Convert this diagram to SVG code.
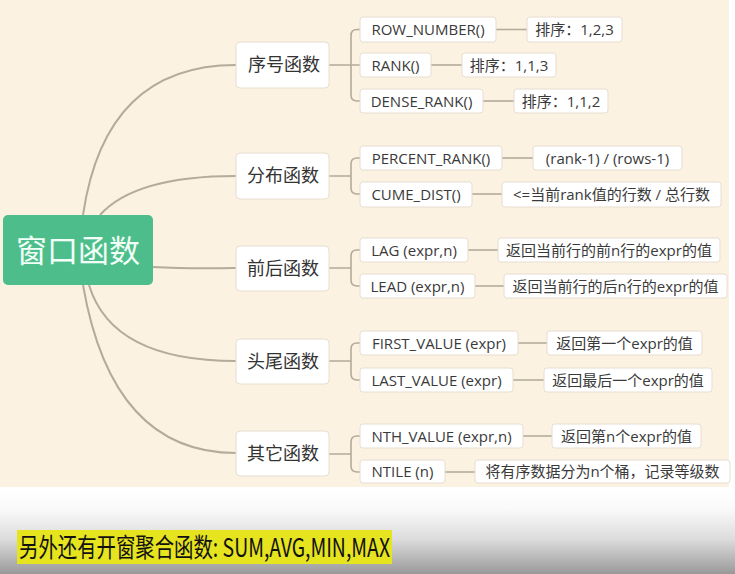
<svg xmlns="http://www.w3.org/2000/svg" width="735" height="574" viewBox="0 0 735 574">
<defs>
<linearGradient id="bottomGrad" x1="0" y1="0" x2="0" y2="1">
<stop offset="0" stop-color="#FFFFFF"/>
<stop offset="0.25" stop-color="#FAFAFA"/>
<stop offset="0.6" stop-color="#DCDCDC"/>
<stop offset="1" stop-color="#999999"/>
</linearGradient>
<style>
.n1 rect{fill:#FFFFFF;stroke:#E6DED0;stroke-width:1}
.n1 text{font-family:"Noto Sans CJK SC","Noto Sans",sans-serif;font-size:18px;fill:#333333;text-anchor:middle}
.n2 rect{fill:#FFFFFF;stroke:#E6DED0;stroke-width:1}
.n2 text{font-family:"Open Sans","Noto Sans CJK SC",sans-serif;font-size:15px;fill:#3a3a3a;text-anchor:middle}
.conn path{fill:none;stroke:#B3AB9C;stroke-width:2}
.conn line{stroke:#B3AB9C;stroke-width:1.6}
</style>
</defs>
<rect x="0" y="0" width="735" height="574" fill="#FFFFFF"/>
<rect x="0" y="0" width="729" height="487" fill="#FCF2E2"/>
<rect x="0" y="487" width="735" height="87" fill="url(#bottomGrad)"/>

<g id="connectors" class="conn">
<path d="M83,215 Q105,65 236,65"/>
<path d="M100,215 Q135,176 236,176"/>
<path d="M152,267 Q190,269 236,268"/>
<path d="M89,285 Q112,361 236,361"/>
<path d="M83,285 Q112,453 236,453"/>
<path d="M329,65 H360 M360,29.5 H357 Q351,29.5 351,35.5 V95 Q351,101 357,101 H360" style="stroke-width:1.6"/>
<path d="M329,176 H351 M360,158 H357 Q351,158 351,164 V188 Q351,194 357,194 H360" style="stroke-width:1.6"/>
<path d="M329,268 H351 M360,250 H357 Q351,250 351,256 V280 Q351,286 357,286 H360" style="stroke-width:1.6"/>
<path d="M329,361 H351 M360,343 H357 Q351,343 351,349 V374 Q351,380 357,380 H360" style="stroke-width:1.6"/>
<path d="M329,454 H351 M360,436 H357 Q351,436 351,442 V466 Q351,472 357,472 H360" style="stroke-width:1.6"/>
<line x1="496" y1="29.5" x2="527" y2="29.5"/>
<line x1="431" y1="65" x2="462" y2="65"/>
<line x1="483" y1="101" x2="514" y2="101"/>
<line x1="502" y1="158" x2="533" y2="158"/>
<line x1="472" y1="194" x2="502" y2="194"/>
<line x1="468" y1="250" x2="498" y2="250"/>
<line x1="475" y1="286" x2="504" y2="286"/>
<line x1="518" y1="343" x2="547" y2="343"/>
<line x1="513" y1="380" x2="544" y2="380"/>
<line x1="523" y1="436" x2="552" y2="436"/>
<line x1="445" y1="472" x2="475" y2="472"/>
</g>

<g id="root">
<rect x="3" y="215" width="150" height="70" rx="5" fill="#4DBE8B"/>
<text x="78" y="262" font-family="Noto Sans CJK SC, sans-serif" font-size="31" fill="#F2FFF7" text-anchor="middle">窗口函数</text>
</g>

<g id="n-xuhao" class="n1"><rect x="236" y="42" width="93" height="46" rx="4"/><text x="284" y="71">序号函数</text></g>
<g id="n-fenbu" class="n1"><rect x="236" y="153" width="93" height="46" rx="4"/><text x="283" y="182">分布函数</text></g>
<g id="n-qianhou" class="n1"><rect x="236" y="246" width="93" height="45" rx="4"/><text x="283" y="274.5">前后函数</text></g>
<g id="n-toutail" class="n1"><rect x="236" y="339" width="93" height="45" rx="4"/><text x="283" y="367.5">头尾函数</text></g>
<g id="n-qita" class="n1"><rect x="236" y="431" width="93" height="45" rx="4"/><text x="283" y="459.5">其它函数</text></g>

<g id="n-row-number" class="n2"><rect x="360" y="17" width="136" height="25" rx="3"/><text x="428" y="35">ROW_NUMBER()</text></g>
<g id="v-row-number" class="n2"><rect x="527" y="17" width="95" height="25" rx="3"/><text x="574.5" y="35">排序：1,2,3</text></g>
<g id="n-rank" class="n2"><rect x="360" y="53" width="71" height="24" rx="3"/><text x="395.5" y="70.5">RANK()</text></g>
<g id="v-rank" class="n2"><rect x="462" y="53" width="94" height="24" rx="3"/><text x="509" y="70.5">排序：1,1,3</text></g>
<g id="n-dense-rank" class="n2"><rect x="360" y="89" width="123" height="24" rx="3"/><text x="421.5" y="106.5">DENSE_RANK()</text></g>
<g id="v-dense-rank" class="n2"><rect x="514" y="89" width="94" height="24" rx="3"/><text x="561" y="106.5">排序：1,1,2</text></g>

<g id="n-percent-rank" class="n2"><rect x="360" y="146" width="142" height="24" rx="3"/><text x="431" y="163.5">PERCENT_RANK()</text></g>
<g id="v-percent-rank" class="n2"><rect x="533" y="146" width="149" height="24" rx="3"/><text x="607.5" y="163.5">(rank-1) / (rows-1)</text></g>
<g id="n-cume-dist" class="n2"><rect x="360" y="182" width="112" height="25" rx="3"/><text x="416" y="200">CUME_DIST()</text></g>
<g id="v-cume-dist" class="n2"><rect x="502" y="182" width="219" height="25" rx="3"/><text x="611.5" y="200">&lt;=当前rank值的行数 / 总行数</text></g>

<g id="n-lag" class="n2"><rect x="360" y="238" width="108" height="24" rx="3"/><text x="414" y="255.5">LAG (expr,n)</text></g>
<g id="v-lag" class="n2"><rect x="498" y="238" width="222" height="24" rx="3"/><text x="609" y="255.5">返回当前行的前n行的expr的值</text></g>
<g id="n-lead" class="n2"><rect x="360" y="274" width="115" height="24" rx="3"/><text x="417.5" y="291.5">LEAD (expr,n)</text></g>
<g id="v-lead" class="n2"><rect x="504" y="274" width="223" height="24" rx="3"/><text x="615.5" y="291.5">返回当前行的后n行的expr的值</text></g>

<g id="n-first-value" class="n2"><rect x="360" y="331" width="158" height="24" rx="3"/><text x="439" y="348.5">FIRST_VALUE (expr)</text></g>
<g id="v-first-value" class="n2"><rect x="547" y="331" width="155" height="24" rx="3"/><text x="624.5" y="348.5">返回第一个expr的值</text></g>
<g id="n-last-value" class="n2"><rect x="360" y="368" width="153" height="24" rx="3"/><text x="436.5" y="385.5">LAST_VALUE (expr)</text></g>
<g id="v-last-value" class="n2"><rect x="544" y="368" width="168" height="24" rx="3"/><text x="628" y="385.5">返回最后一个expr的值</text></g>

<g id="n-nth-value" class="n2"><rect x="360" y="424" width="163" height="24" rx="3"/><text x="441.5" y="441.5">NTH_VALUE (expr,n)</text></g>
<g id="v-nth-value" class="n2"><rect x="552" y="424" width="149" height="24" rx="3"/><text x="626.5" y="441.5">返回第n个expr的值</text></g>
<g id="n-ntile" class="n2"><rect x="360" y="460" width="85" height="23" rx="3"/><text x="402.5" y="477">NTILE (n)</text></g>
<g id="v-ntile" class="n2"><rect x="475" y="460" width="255" height="23" rx="3"/><text x="602.5" y="477">将有序数据分为n个桶，记录等级数</text></g>

<g id="caption">
<rect x="17" y="530" width="375" height="34" fill="#E6E31F"/>
<text x="19" y="557" font-family="Noto Sans CJK SC, sans-serif" font-size="26" fill="#111111" textLength="371" lengthAdjust="spacingAndGlyphs">另外还有开窗聚合函数: SUM,AVG,MIN,MAX</text>
</g>
</svg>
